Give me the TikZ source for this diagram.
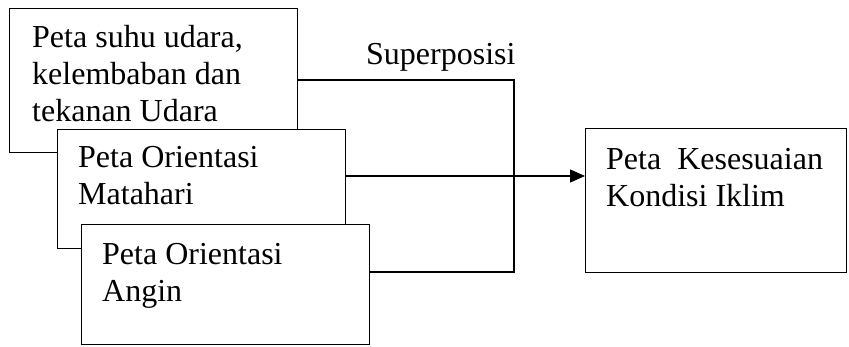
\documentclass[tikz,border=0pt]{standalone}
\usepackage{fontspec}
\setmainfont{Liberation Serif}
\usetikzlibrary{arrows.meta}
\begin{document}
\begin{tikzpicture}[x=1pt,y=-1pt,
  mapbox/.style={draw=black, line width=1.3pt, fill=white, rectangle,
    inner sep=0pt, anchor=north west},
  % multi-line text nodes are placed by the baseline of their last line
  txt/.style={inner sep=0pt, anchor=base west, align=left,
    font=\fontsize{32}{37}\selectfont},
  link/.style={draw=black, line width=1.3pt}]
\useasboundingbox (0,0) rectangle (849,347);

% stacked input maps
\node[mapbox, minimum width=288pt, minimum height=144pt] (b1) at (9,8) {};
\node[txt] (t1) at (32,122) {Peta suhu udara,\\kelembaban dan\\tekanan Udara};
\node[mapbox, minimum width=288pt, minimum height=119pt] (b2) at (57,129) {};
\node[txt] (t2) at (78,205) {Peta Orientasi\\Matahari};
\node[mapbox, minimum width=288pt, minimum height=120pt] (b3) at (81,224) {};
\node[txt] (t3) at (102,302) {Peta Orientasi\\Angin};

% result map
\node[mapbox, minimum width=261pt, minimum height=144pt] (res) at (585,128) {};
\node[txt] (t4) at (606,207) {Peta\ \ Kesesuaian\\Kondisi Iklim};

% overlay bracket and arrow
\coordinate (j1) at (514,80);
\coordinate (j2) at (514,272);
\coordinate (arr) at (0,176);
\draw[link] (b1.east |- j1) -- (j1) -- (j2) -- (b3.east |- j2);
\draw[link, -{Triangle[length=15pt,width=13pt]}] (b2.east |- arr) -- (res.west |- arr);
\node[txt] (sp) at (366,65) {Superposisi};
\end{tikzpicture}
\end{document}
